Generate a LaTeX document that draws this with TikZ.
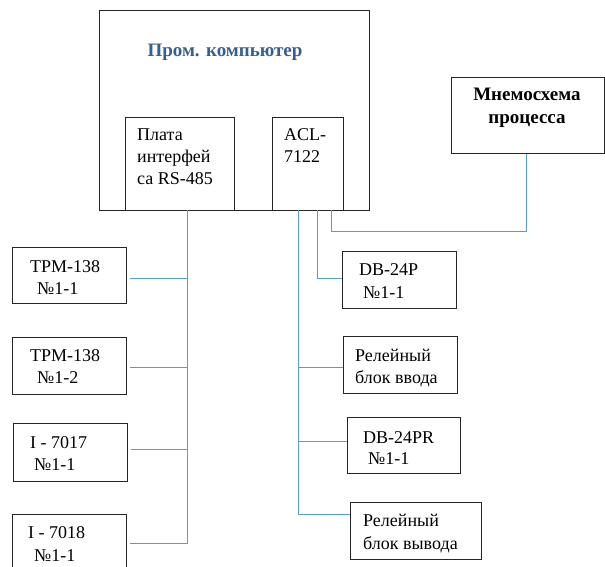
\documentclass[tikz,border=0pt]{standalone}
\usepackage{fontspec}
\setmainfont{Liberation Serif}
\definecolor{wire}{RGB}{91,155,213}
\definecolor{titleblue}{RGB}{54,95,145}
\begin{document}
\begin{tikzpicture}[x=1pt,y=-1pt,
  box/.style={draw=black!85,line width=1pt},
  txt/.style={anchor=base west,inner sep=0pt,font=\fontsize{18}{22}\selectfont},
  btxt/.style={anchor=base,inner sep=0pt,font=\fontsize{19}{23}\selectfont\bfseries},
  wireline/.style={draw=wire,line width=1pt}]
\useasboundingbox (0,0) rectangle (605,567);
\clip (0,0) rectangle (605,567);
% boxes
\draw[box] (99,11) rectangle (369,210);
\node[box,inner sep=0pt,anchor=north west,minimum width=109pt,minimum height=93pt] (plata) at (125,117) {};
\node[box,inner sep=0pt,anchor=north west,minimum width=71pt,minimum height=93pt] (acl) at (272,117) {};
\node[box,inner sep=0pt,anchor=north west,minimum width=153pt,minimum height=76pt] (mnemo) at (451,77) {};
\node[box,inner sep=0pt,anchor=north west,minimum width=114pt,minimum height=56pt] (trma) at (12,247) {};
\node[box,inner sep=0pt,anchor=north west,minimum width=114pt,minimum height=57pt] (trmb) at (12,337) {};
\node[box,inner sep=0pt,anchor=north west,minimum width=114pt,minimum height=58pt] (ia) at (13,423) {};
\node[box,inner sep=0pt,anchor=north west,minimum width=114pt,minimum height=60pt] (ib) at (12,514) {};
\node[box,inner sep=0pt,anchor=north west,minimum width=114pt,minimum height=57pt] (dbp) at (342,251) {};
\node[box,inner sep=0pt,anchor=north west,minimum width=114pt,minimum height=57pt] (relin) at (343,336) {};
\node[box,inner sep=0pt,anchor=north west,minimum width=113pt,minimum height=56pt] (dbpr) at (347,417) {};
\node[box,inner sep=0pt,anchor=north west,minimum width=131pt,minimum height=57pt] (relout) at (350,502) {};
% texts
\node[btxt,text=titleblue] (title) at (225,57) {Пром. компьютер};
\node[btxt] (m1) at (527,101) {Мнемосхема};
\node[btxt] (m2) at (527,124) {процесса};
\node[txt] (p1) at (137,141) {Плата};
\node[txt] (p2) at (137,163) {интерфей};
\node[txt] (p3) at (137,184) {са RS-485};
\node[txt] (a1) at (284,141) {ACL-};
\node[txt] (a2) at (284,163) {7122};
\node[txt] (t1) at (30,272) {ТРМ-138};
\node[txt] (t2) at (37,294) {№1-1};
\node[txt] (t3) at (30,361) {ТРМ-138};
\node[txt] (t4) at (37,383) {№1-2};
\node[txt] (t5) at (30,448) {I - 7017};
\node[txt] (t6) at (34,470) {№1-1};
\node[txt] (t7) at (28,538) {I - 7018};
\node[txt] (t8) at (34,561) {№1-1};
\node[txt] (d1) at (359,275) {DB-24P};
\node[txt] (d2) at (363,298) {№1-1};
\node[txt] (r1) at (355,361) {Релейный};
\node[txt] (r2) at (355,383) {блок ввода};
\node[txt] (d3) at (363,443) {DB-24PR};
\node[txt] (d4) at (368,464) {№1-1};
\node[txt] (r3) at (363,526) {Релейный};
\node[txt] (r4) at (363,549) {блок вывода};
% connector coordinates
\coordinate (rsTop) at (187.5,210);
\coordinate (rsBot) at (187.5,543.5);
\coordinate (acTop) at (298.5,210);
\coordinate (acBot) at (298.5,514.5);
\coordinate (dbTop) at (317.5,210);
\coordinate (dbBend) at (317.5,278.5);
\coordinate (mnTop) at (331.5,210);
\coordinate (mnBendA) at (331.5,231.5);
\coordinate (mnBendB) at (526.5,231.5);
% wires
\draw[wireline] (rsTop) -- (rsBot);
\draw[wireline] (rsTop |- 0,278.5) -- ([xshift=3pt]trma.east |- 0,278.5);
\draw[wireline] (rsTop |- 0,367.5) -- ([xshift=3pt]trmb.east |- 0,367.5);
\draw[wireline] (rsTop |- 0,449.5) -- ([xshift=3pt]ia.east |- 0,449.5);
\draw[wireline] (rsBot) -- ([xshift=3pt]ib.east |- rsBot);
\draw[wireline] (acTop) -- (acBot) -- (relout.west |- acBot);
\draw[wireline] (acTop |- 0,367.5) -- (relin.west |- 0,367.5);
\draw[wireline] (acTop |- 0,441.5) -- (dbpr.west |- 0,441.5);
\draw[wireline] (dbTop) -- (dbBend) -- (dbp.west |- dbBend);
\draw[wireline] (mnTop) -- (mnBendA) -- (mnBendB) -- (mnemo.south -| mnBendB);
\end{tikzpicture}
\end{document}
